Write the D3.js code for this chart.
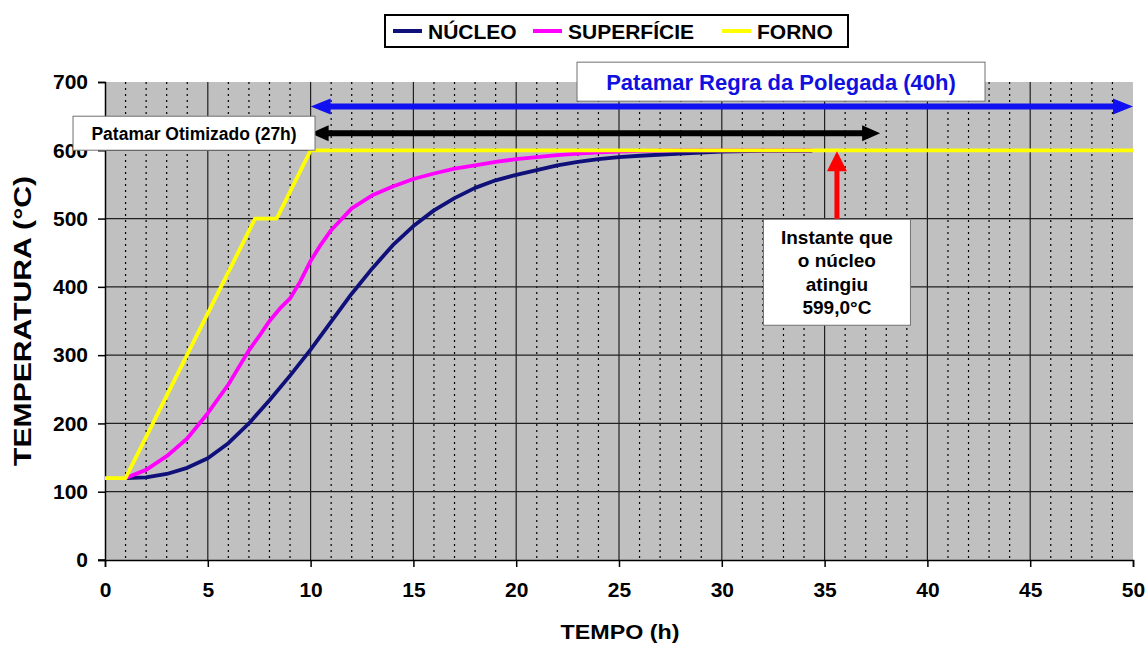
<!DOCTYPE html>
<html>
<head>
<meta charset="utf-8">
<script src="https://cdn.jsdelivr.net/npm/d3@7"></script>
<style>
  body { margin: 0; background: #fff; }
  text { font-family: Arial, "Liberation Sans", sans-serif; font-weight: bold; }
</style>
</head>
<body>
<svg width="1148" height="646"></svg>
<script>
// series (hours, degC)
var nucleoHours = [1, 2, 3, 4, 5, 6, 7, 8, 9, 10, 11, 12, 13, 14, 15, 16, 17, 18, 19, 20, 21, 22, 23, 24, 25, 26, 28, 30, 32, 34.4];
var nucleoTemp  = [120, 121, 126, 135, 149, 171, 200, 234, 270, 308, 349, 390, 427, 461, 489, 512, 530, 545, 556, 564, 571, 578, 583, 587, 590, 592, 595, 598, 599, 599];

var superHours = [1, 2, 3, 4, 5, 6, 7, 7.5, 8, 8.5, 9, 9.5, 10, 10.5, 11, 12, 13, 14, 15, 16, 17, 18, 19, 20, 21, 22, 23, 24, 25, 26, 28, 34.4];
var superTemp  = [120, 132, 152, 178, 215, 257, 307, 328, 350, 368, 383, 408, 438, 462, 483, 515, 534, 547, 558, 566, 573, 578, 583, 587, 590, 593, 595, 597, 598, 599, 600, 600];

var fornoHours = [0, 1, 7.3, 8.35, 10, 50];
var fornoTemp  = [120, 120, 500, 500, 600, 600];

var seriesNames  = ["NÚCLEO", "SUPERFÍCIE", "FORNO"];
var seriesColors = ["#10107a", "#ff00ff", "#ffff00"];

var xTicks = [0, 5, 10, 15, 20, 25, 30, 35, 40, 45, 50];
var yTicks = [0, 100, 200, 300, 400, 500, 600, 700];

// annotations (in data units)
var polegada  = {from: 10, to: 50, temp: 664, label: "Patamar Regra da Polegada (40h)"};
var otimizado = {from: 10, to: 37.7, temp: 625, label: "Patamar Otimizado (27h)"};
var instante  = {hour: 35.6, top: 600, bottom: 499, lines: ["Instante que", "o núcleo", "atingiu", "599,0°C"]};

var svg = d3.select("svg");
var margin = {top: 82, right: 15, bottom: 86, left: 105};
var width = +svg.attr("width") - margin.left - margin.right;
var height = +svg.attr("height") - margin.top - margin.bottom;

var x = d3.scaleLinear().domain([0, 50]).range([0, width]);
var y = d3.scaleLinear().domain([0, 700]).range([height, 0]);

var g = svg.append("g")
    .attr("transform", "translate(" + margin.left + "," + margin.top + ")");

g.append("rect")
    .attr("width", width)
    .attr("height", height)
    .attr("fill", "#c0c0c0");

// minor dotted verticals every hour
g.selectAll(".minor")
    .data(d3.range(1, 50).filter(function(d) { return d % 5 != 0; }))
  .enter().append("line")
    .attr("class", "minor")
    .attr("x1", x).attr("x2", x)
    .attr("y1", 0).attr("y2", height)
    .attr("stroke", "#000")
    .attr("stroke-width", 1.2)
    .attr("stroke-dasharray", "2,4");

g.selectAll(".vmajor")
    .data(xTicks.filter(function(d) { return d > 0 && d < 50; }))
  .enter().append("line")
    .attr("class", "vmajor")
    .attr("x1", x).attr("x2", x)
    .attr("y1", 0).attr("y2", height)
    .attr("stroke", "#202020")
    .attr("stroke-width", 1.2);

g.selectAll(".hmajor")
    .data(yTicks.filter(function(d) { return d > 0 && d < 700; }))
  .enter().append("line")
    .attr("class", "hmajor")
    .attr("x1", 0).attr("x2", width)
    .attr("y1", y).attr("y2", y)
    .attr("stroke", "#202020")
    .attr("stroke-width", 1.2);

var xAxis = g.append("g")
    .attr("transform", "translate(0," + height + ")")
    .call(d3.axisBottom(x).tickValues(xTicks).tickSize(7).tickPadding(15));
var yAxis = g.append("g")
    .call(d3.axisLeft(y).tickValues(yTicks).tickSize(7).tickPadding(10));

[xAxis, yAxis].forEach(function(a) {
  a.select(".domain").attr("stroke", "#000").attr("stroke-width", 1.5);
  a.selectAll(".tick line").attr("stroke", "#000").attr("stroke-width", 1.5);
  a.selectAll(".tick text")
    .style("font-size", "21px")
    .style("font-weight", "bold")
    .attr("fill", "#000");
});
// x axis extends a bit left of the origin
xAxis.append("line").attr("x1", -7).attr("x2", 0).attr("stroke", "#000").attr("stroke-width", 1.5);

// series
var line = d3.line()
    .x(function(d) { return x(d[0]); })
    .y(function(d) { return y(d[1]); });

var series = [
  d3.zip(nucleoHours, nucleoTemp),
  d3.zip(superHours, superTemp),
  d3.zip(fornoHours, fornoTemp)
];

g.selectAll(".serie")
    .data(series)
  .enter().append("path")
    .attr("class", "serie")
    .attr("d", line)
    .attr("fill", "none")
    .attr("stroke", function(d, i) { return seriesColors[i]; })
    .attr("stroke-width", 3.8)
    .attr("stroke-linejoin", "round");

// double headed horizontal arrow
function hArrow(a, color, w, headLen, headHalf) {
  var x1 = x(a.from), x2 = x(a.to), yy = y(a.temp);
  g.append("line")
      .attr("x1", x1 + headLen - 2).attr("x2", x2 - headLen + 2)
      .attr("y1", yy).attr("y2", yy)
      .attr("stroke", color).attr("stroke-width", w);
  g.append("path")
      .attr("d", "M" + x1 + "," + yy + "L" + (x1 + headLen) + "," + (yy - headHalf) + "L" + (x1 + headLen) + "," + (yy + headHalf) + "Z")
      .attr("fill", color);
  g.append("path")
      .attr("d", "M" + x2 + "," + yy + "L" + (x2 - headLen) + "," + (yy - headHalf) + "L" + (x2 - headLen) + "," + (yy + headHalf) + "Z")
      .attr("fill", color);
}

hArrow(polegada, "#1010f0", 6, 20, 8);
hArrow(otimizado, "#000", 6, 18, 8);

// text boxes
function textBox(cx, cy, w, h, lines, size, color, lh) {
  g.append("rect")
      .attr("x", cx - w / 2).attr("y", cy - h / 2)
      .attr("width", w).attr("height", h)
      .attr("fill", "#fff")
      .attr("stroke", "#707070")
      .attr("stroke-width", 1);
  var t = g.append("text")
      .attr("text-anchor", "middle")
      .style("font-size", size + "px")
      .attr("fill", color);
  lines.forEach(function(s, i) {
    t.append("tspan")
        .attr("x", cx)
        .attr("y", cy + (i - (lines.length - 1) / 2) * lh + size * 0.36)
        .text(s);
  });
}

textBox(x(32.88), y(700.5), 408, 39, [polegada.label], 22, "#1010e0", 0);
textBox(x(4.33), y(625), 242, 34, [otimizado.label], 17.5, "#000", 0);

// red arrow up to the oven line
var ax = x(instante.hour), aTop = y(instante.top), aBot = y(instante.bottom);
g.append("line")
    .attr("x1", ax).attr("x2", ax)
    .attr("y1", aBot).attr("y2", aTop + 18)
    .attr("stroke", "#ff0000").attr("stroke-width", 5);
g.append("path")
    .attr("d", "M" + ax + "," + (aTop + 1) + "L" + (ax - 10) + "," + (aTop + 21) + "L" + (ax + 10) + "," + (aTop + 21) + "Z")
    .attr("fill", "#ff0000");

textBox(ax, aBot + 53, 147, 106, instante.lines, 19, "#000", 23.5);

// axis titles
svg.append("text")
    .attr("x", 620).attr("y", 639)
    .attr("text-anchor", "middle")
    .attr("textLength", 119)
    .attr("lengthAdjust", "spacingAndGlyphs")
    .style("font-size", "21px")
    .text("TEMPO (h)");

svg.append("text")
    .attr("transform", "translate(31,321) rotate(-90)")
    .attr("text-anchor", "middle")
    .attr("textLength", 290)
    .attr("lengthAdjust", "spacingAndGlyphs")
    .style("font-size", "24px")
    .text("TEMPERATURA (°C)");

// legend
var legend = svg.append("g");
legend.append("rect")
    .attr("x", 385).attr("y", 15)
    .attr("width", 463).attr("height", 32)
    .attr("fill", "#fff")
    .attr("stroke", "#000")
    .attr("stroke-width", 2);

var legX = [393, 533, 722];
seriesNames.forEach(function(name, i) {
  legend.append("line")
      .attr("x1", legX[i]).attr("x2", legX[i] + 29)
      .attr("y1", 31).attr("y2", 31)
      .attr("stroke", seriesColors[i])
      .attr("stroke-width", 4);
  legend.append("text")
      .attr("x", legX[i] + 35).attr("y", 39)
      .style("font-size", "21px")
      .text(name);
});
</script>
</body>
</html>
